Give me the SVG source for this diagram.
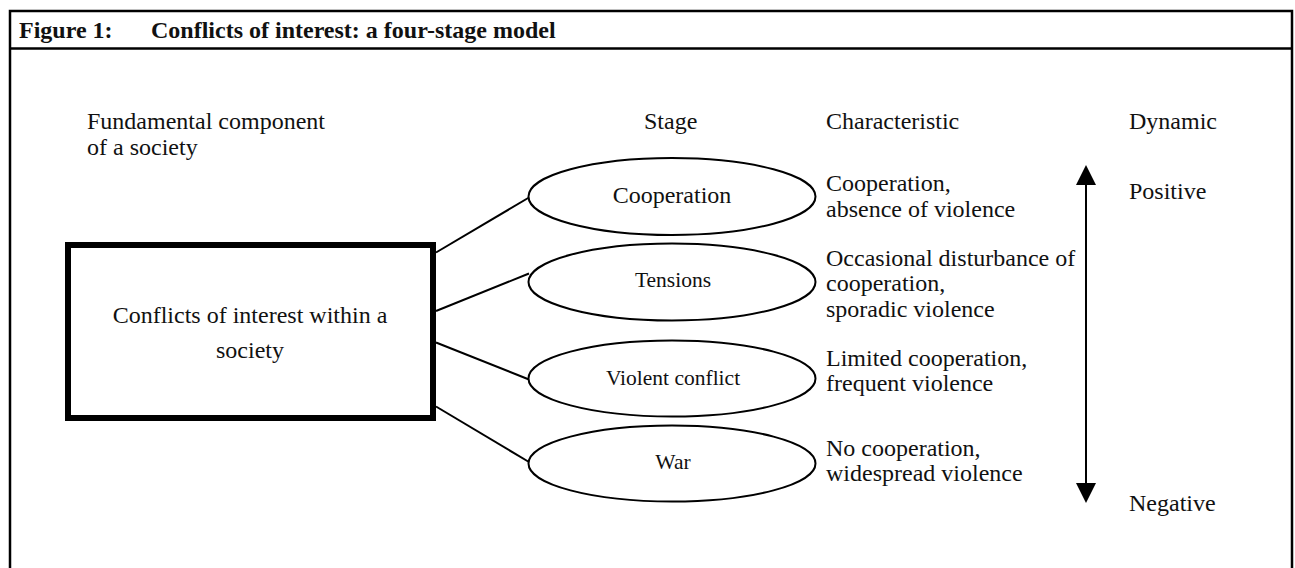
<svg xmlns="http://www.w3.org/2000/svg" width="1295" height="568" viewBox="0 0 1295 568">
<style>
  text { font-family: "Liberation Serif", "Times New Roman", serif; fill: #111; }
  .title { font-size: 24px; font-weight: bold; }
  .lbl { font-size: 24px; }
  .small { font-size: 21.5px; }
  .mid { text-anchor: middle; }
  .frame { fill: none; stroke: #000; stroke-width: 2.5; }
  .stage { fill: #fff; stroke: #000; stroke-width: 2; }
  .conn line { stroke: #000; stroke-width: 2; }
</style>
<rect x="0" y="0" width="1295" height="568" fill="#fff"/>
<g id="frame">
  <path class="frame" d="M10,580 L10,11 L1292,11 L1292,580"/>
  <line x1="10" y1="48.5" x2="1292" y2="48.5" stroke="#000" stroke-width="2.5"/>
  <text class="title" x="19" y="38">Figure 1:</text>
  <text class="title" x="151" y="38">Conflicts of interest: a four-stage model</text>
</g>
<g id="headers">
  <text class="lbl" x="87" y="129">Fundamental component</text>
  <text class="lbl" x="87" y="154.5">of a society</text>
  <text class="lbl" x="644" y="129">Stage</text>
  <text class="lbl" x="826" y="129">Characteristic</text>
  <text class="lbl" x="1129" y="129">Dynamic</text>
</g>
<g class="conn" id="connectors">
  <line x1="436" y1="252.5" x2="529" y2="197.5"/>
  <line x1="436" y1="311" x2="529" y2="273.5"/>
  <line x1="436" y1="342.5" x2="529" y2="379.5"/>
  <line x1="436" y1="406.5" x2="529" y2="462"/>
</g>
<g id="society">
  <rect x="68" y="245" width="365" height="173" fill="#fff" stroke="#000" stroke-width="6"/>
  <text class="lbl mid" x="250" y="323">Conflicts of interest within a</text>
  <text class="lbl mid" x="250" y="358">society</text>
</g>
<g id="cooperation">
  <ellipse class="stage" cx="672" cy="196.5" rx="143.5" ry="38.5"/>
  <text class="lbl mid" x="672" y="203">Cooperation</text>
</g>
<g id="tensions">
  <ellipse class="stage" cx="672" cy="282" rx="143.5" ry="38.5"/>
  <text class="small mid" x="673" y="287">Tensions</text>
</g>
<g id="violent">
  <ellipse class="stage" cx="672" cy="378.5" rx="143.5" ry="38"/>
  <text class="small mid" x="673" y="384.5">Violent conflict</text>
</g>
<g id="war">
  <ellipse class="stage" cx="672" cy="463.5" rx="143.5" ry="38"/>
  <text class="small mid" x="673" y="468.5">War</text>
</g>
<g id="characteristics">
  <text class="lbl" x="826" y="191">Cooperation,</text>
  <text class="lbl" x="826" y="216.5">absence of violence</text>
  <text class="lbl" x="826" y="265.5">Occasional disturbance of</text>
  <text class="lbl" x="826" y="291">cooperation,</text>
  <text class="lbl" x="826" y="316.5">sporadic violence</text>
  <text class="lbl" x="826" y="365.5">Limited cooperation,</text>
  <text class="lbl" x="826" y="391">frequent violence</text>
  <text class="lbl" x="826" y="455.5">No cooperation,</text>
  <text class="lbl" x="826" y="481">widespread violence</text>
</g>
<g id="dynamic">
  <line x1="1086" y1="183" x2="1086" y2="485" stroke="#000" stroke-width="2"/>
  <polygon points="1086,165 1076,185 1096,185" fill="#000"/>
  <polygon points="1086,503 1076,483 1096,483" fill="#000"/>
  <text class="lbl" x="1129" y="199">Positive</text>
  <text class="lbl" x="1129" y="511">Negative</text>
</g>
</svg>
